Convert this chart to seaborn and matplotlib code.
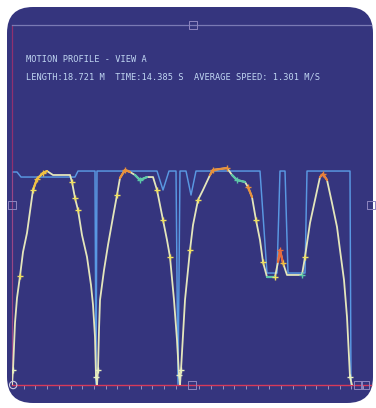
import numpy as np
import pandas as pd
import matplotlib
matplotlib.use("Agg")
import matplotlib.pyplot as plt
from matplotlib.patches import FancyBboxPatch
import seaborn as sns

# ---------------- data (time in s, speed in m/s) ----------------
actual_t = [0.000, 0.043, 0.128, 0.214, 0.342, 0.470, 0.641, 0.897, 1.068, 1.325,
            1.496, 1.752, 2.051, 2.479, 2.564, 2.692, 2.821, 2.991, 3.205, 3.376,
            3.462, 3.547, 3.590, 3.632,
            3.675, 3.718, 3.761, 3.932, 4.103, 4.316, 4.487, 4.615, 4.829, 5.043,
            5.256, 5.470, 5.769, 6.026, 6.197, 6.325, 6.453, 6.624, 6.752, 6.923,
            7.051, 7.137, 7.179,
            7.222, 7.308, 7.393, 7.607, 7.735, 7.949, 8.162, 8.462, 8.590, 9.188,
            9.402, 9.615, 9.957, 10.085, 10.256, 10.427, 10.598, 10.726, 10.897,
            11.239, 11.368, 11.453, 11.581, 11.752, 12.393, 12.521, 12.735, 12.949,
            13.162, 13.291, 13.462, 13.675, 13.889, 14.017, 14.188, 14.316, 14.444,
            14.530]
actual_v = [0.000, 0.125, 0.517, 0.725, 0.908, 1.108, 1.267, 1.625, 1.717, 1.767,
            1.783, 1.750, 1.750, 1.750, 1.692, 1.558, 1.458, 1.250, 1.067, 0.833,
            0.667, 0.400, 0.067, 0.000,
            0.125, 0.458, 0.708, 0.958, 1.167, 1.400, 1.583, 1.725, 1.792, 1.775,
            1.750, 1.708, 1.733, 1.733, 1.625, 1.500, 1.375, 1.208, 1.067, 0.708,
            0.375, 0.083, 0.000,
            0.125, 0.417, 0.708, 1.125, 1.333, 1.542, 1.625, 1.750, 1.792, 1.808,
            1.750, 1.708, 1.692, 1.650, 1.567, 1.375, 1.208, 1.025, 0.900,
            0.900, 1.025, 1.125, 1.017, 0.917, 0.917, 1.067, 1.350, 1.542,
            1.733, 1.758, 1.708, 1.517, 1.317, 1.125, 0.875, 0.567, 0.067,
            0.000]

limit_t = [0.000, 0.000, 0.214, 0.385, 2.692, 2.821, 3.547, 3.590, 3.632, 6.197,
           6.453, 6.709, 7.009, 7.094, 7.179, 7.436, 7.650, 7.863, 10.598, 10.897,
           11.325, 11.453, 11.667, 11.795, 12.521, 12.607, 14.444, 14.487]
limit_v = [0.000, 1.775, 1.775, 1.733, 1.733, 1.783, 1.783, 0.000, 1.783, 1.783,
           1.625, 1.783, 1.783, 0.000, 1.783, 1.783, 1.583, 1.783, 1.783, 0.933,
           0.933, 1.783, 1.783, 0.933, 0.933, 1.783, 1.783, 0.000]

# highlighted (speed-coloured) stretches of the profile: start, end, colour
hl_start = [0.85, 4.55, 5.25, 8.40, 9.40, 10.05, 10.85, 11.30, 13.10]
hl_end   = [1.60, 5.05, 5.80, 9.20, 9.96, 10.30, 11.25, 11.60, 13.50]
hl_color = ["#f2c040", "#e8903a", "#5cc8a8", "#e8903a", "#5cc8a8", "#e8903a",
            "#5cc8a8", "#e86a3a", "#e8803a"]

# markers along the profile
mk_t = [0.043, 0.342, 0.897, 1.068, 1.325, 2.564, 2.692, 2.821, 3.590,
        3.675, 4.487, 4.829, 5.470, 6.197, 6.453, 6.752, 7.137,
        7.222, 7.607, 7.949, 8.590, 9.188, 9.615, 10.085, 10.427,
        10.726, 11.239, 11.453, 11.581, 12.393, 12.521, 13.291, 14.444]
mk_v = [0.125, 0.908, 1.625, 1.717, 1.767, 1.692, 1.558, 1.458, 0.067,
        0.125, 1.583, 1.792, 1.708, 1.625, 1.375, 1.067, 0.083,
        0.125, 1.125, 1.542, 1.792, 1.808, 1.708, 1.650, 1.375,
        1.025, 0.900, 1.125, 1.017, 0.917, 1.067, 1.758, 0.067]
mk_c = ["#e8f0c0", "#f0e060", "#f0e060", "#f0c040", "#f0c040", "#f0e060", "#f0e060",
        "#f0e060", "#e8f0c0", "#e8f0c0", "#f0e060", "#e8903a", "#5cc8a8", "#f0e060",
        "#f0e060", "#f0e060", "#e8f0c0", "#e8f0c0", "#f0e060", "#f0e060", "#e8903a",
        "#e8903a", "#5cc8a8", "#e8903a", "#f0e060", "#f0e060", "#f0e060", "#e86a3a",
        "#f0c040", "#5cc8a8", "#f0e060", "#e8803a", "#e8f0c0"]

title_1 = "MOTION PROFILE - VIEW A"
title_2 = "LENGTH:18.721 M  TIME:14.385 S  AVERAGE SPEED: 1.301 M/S"

# ---------------- figure ----------------
sns.set_style("white")
W, H = 376, 408
fig = plt.figure(figsize=(W / 100, H / 100), dpi=100)
fig.patch.set_facecolor("white")

bg = fig.add_axes([0, 0, 1, 1])
bg.set_xlim(0, W)
bg.set_ylim(H, 0)
bg.axis("off")
panel = FancyBboxPatch((7, 7), 366, 396, boxstyle="round,pad=0,rounding_size=26",
                       facecolor="#35357e", edgecolor="none")
bg.add_patch(panel)

# plot region
x0, x1, ytop, ybot = 12, 371, 25, 385
px_per_s = 23.4
px_per_v = 120.0
ax = fig.add_axes([x0 / W, (H - ybot) / H, (x1 - x0) / W, (ybot - ytop) / H])
ax.set_facecolor("none")
ax.set_xlim(0, (x1 - x0) / px_per_s)
ax.set_ylim(0, (ybot - ytop) / px_per_v)

ax.spines["right"].set_visible(False)
ax.spines["top"].set_color("#7a7ab4")
ax.spines["top"].set_linewidth(0.9)
ax.spines["left"].set_color("#b8306a")
ax.spines["left"].set_linewidth(0.9)
ax.spines["left"].set_alpha(0.7)
ax.spines["bottom"].set_color("#d83a5a")
ax.spines["bottom"].set_linewidth(1.0)

ax.set_xticks(np.arange(0.5, 15.3, 0.5))
ax.set_xticklabels([])
ax.set_yticks([])
ax.tick_params(axis="x", direction="out", length=3, width=0.6, color="#a4a4d0",
               bottom=True)

df_lim = pd.DataFrame({"t": limit_t, "v": limit_v})
df_act = pd.DataFrame({"t": actual_t, "v": actual_v})

sns.lineplot(data=df_lim, x="t", y="v", sort=False, estimator=None, ax=ax,
             color="#5ea4ee", lw=1.05, alpha=0.9, zorder=2)
sns.lineplot(data=df_act, x="t", y="v", sort=False, estimator=None, ax=ax,
             color="#e4e6bc", lw=1.3, zorder=3)

t_arr = np.array(actual_t)
v_arr = np.array(actual_v)
for a, b, c in zip(hl_start, hl_end, hl_color):
    m = (t_arr >= a) & (t_arr <= b)
    seg = pd.DataFrame({"t": t_arr[m], "v": v_arr[m]})
    sns.lineplot(data=seg, x="t", y="v", sort=False, estimator=None, ax=ax,
                 color=c, lw=1.6, zorder=4)

ax.scatter(mk_t, mk_v, marker="+", s=22, c=mk_c, linewidths=1.0, zorder=5)

# handles
hx = [(193 - x0) / px_per_s, 0.0, (192 - x0) / px_per_s, (371 - x0) / px_per_s,
      (358 - x0) / px_per_s, (365 - x0) / px_per_s]
hy = [(ybot - 25) / px_per_v, (ybot - 205) / px_per_v, 0.0, (ybot - 205) / px_per_v,
      0.0, 0.0]
ax.scatter(hx, hy, marker="s", s=30, facecolors="none", edgecolors="#8e86c0",
           linewidths=0.7, zorder=6, clip_on=False)
ax.scatter([0.05], [0.0], marker="o", s=28, facecolors="none", edgecolors="#c8c8e0",
           linewidths=0.8, zorder=6, clip_on=False)
ax.set_xlabel("")
ax.set_ylabel("")

fig.text(26 / W, 1 - 60 / H, title_1, family="DejaVu Sans Mono", fontsize=6.2,
         color="#c0d6f2", va="center", ha="left")
fig.text(26 / W, 1 - 77 / H, title_2, family="DejaVu Sans Mono", fontsize=6.2,
         color="#c0d6f2", va="center", ha="left")

fig.savefig("out.png", dpi=100, facecolor="white")
